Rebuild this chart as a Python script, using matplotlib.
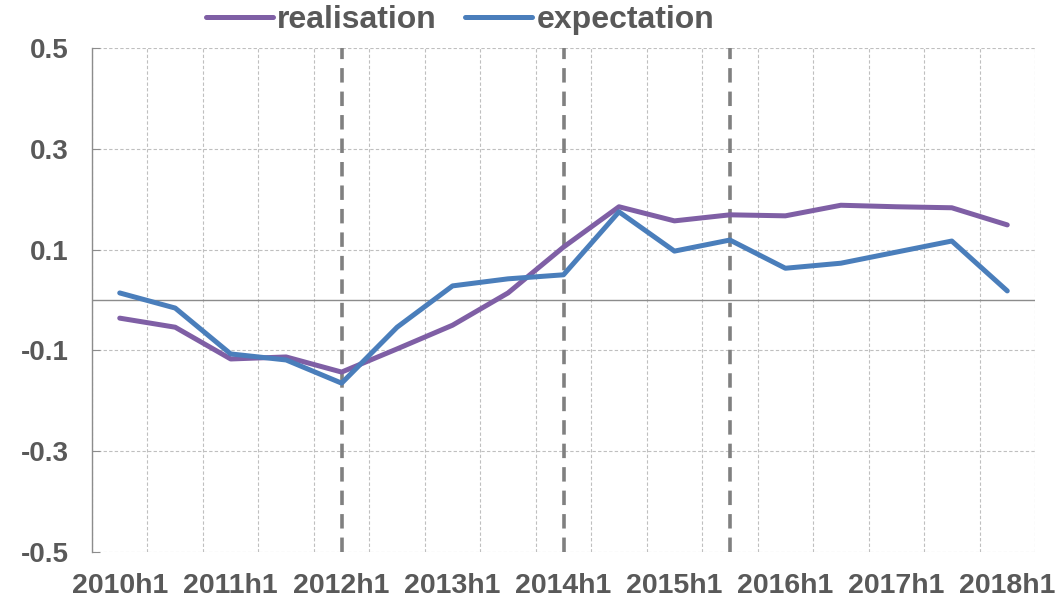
import matplotlib
matplotlib.use("Agg")
import matplotlib.pyplot as plt
from matplotlib.lines import Line2D

periods = ["2010h1", "2010h2", "2011h1", "2011h2", "2012h1", "2012h2",
           "2013h1", "2013h2", "2014h1", "2014h2", "2015h1", "2015h2",
           "2016h1", "2016h2", "2017h1", "2017h2", "2018h1"]
realisation = [-0.036, -0.054, -0.117, -0.113, -0.143, -0.097, -0.050, 0.014,
               0.105, 0.185, 0.157, 0.169, 0.167, 0.188, 0.185, 0.183, 0.149]
expectation = [0.014, -0.016, -0.107, -0.119, -0.165, -0.054, 0.028, 0.042,
               0.050, 0.175, 0.097, 0.119, 0.063, 0.073, 0.095, 0.117, 0.018]
marker_periods = ["2012h1", "2014h1", "2015h2"]
yticks = [0.5, 0.3, 0.1, -0.1, -0.3, -0.5]

FONT = ["Liberation Sans", "DejaVu Sans"]
TXT = "#595959"
PURPLE = "#7F5FA5"
BLUE = "#4A7EBB"

fig = plt.figure(figsize=(10.55, 6.03), dpi=100)
ax = fig.add_axes([92/1055, 1-552/603, (1035-92)/1055, (552-48)/603])

x = list(range(len(periods)))
ax.set_xlim(-0.5, len(periods) - 0.5)
ax.set_ylim(-0.5, 0.5)

for i in range(len(periods) + 1):
    ax.axvline(i - 0.5, color="#BFBFBF", lw=0.8, ls=(0, (3, 2)), zorder=1)
for v in yticks:
    ax.axhline(v, color="#BFBFBF", lw=0.8, ls=(0, (3, 2)), zorder=1)
ax.axhline(0, color="#8C8C8C", lw=1.0, zorder=2)

for p in marker_periods:
    ax.axvline(periods.index(p), color="#808080", lw=2.6, ls=(0, (4, 2.5)), zorder=3)

ax.plot(x, realisation, color=PURPLE, lw=3.6, zorder=4, solid_joinstyle="round",
        solid_capstyle="round")
ax.plot(x, expectation, color=BLUE, lw=3.6, zorder=5, solid_joinstyle="round",
        solid_capstyle="round")

for s in ["top", "right", "bottom"]:
    ax.spines[s].set_visible(False)
ax.spines["left"].set_color("#8C8C8C")
ax.spines["left"].set_linewidth(1.0)

ax.set_yticks(yticks)
ax.set_yticklabels([f"{v:.1f}" for v in yticks], fontfamily=FONT, fontweight="bold",
                   fontsize=20, color=TXT)
ax.tick_params(axis="y", direction="in", length=6, color="#8C8C8C", pad=17)

ax.set_xticks(x[::2])
ax.set_xticklabels(periods[::2], fontfamily=FONT, fontweight="bold", fontsize=20.5,
                   color=TXT)
ax.tick_params(axis="x", length=0, pad=15)

handles = [Line2D([], [], color=PURPLE, lw=3.6, solid_capstyle="round"),
           Line2D([], [], color=BLUE, lw=3.6, solid_capstyle="round")]
leg = fig.legend(handles, ["realisation", "expectation"], loc="center",
                 bbox_to_anchor=(460/1055, 1-20/603), ncol=2, frameon=False,
                 handlelength=2.1, handletextpad=0.12, columnspacing=0.9,
                 prop={"family": FONT, "weight": "bold", "size": 23})
for t in leg.get_texts():
    t.set_color(TXT)

fig.savefig("out.png", dpi=100)
